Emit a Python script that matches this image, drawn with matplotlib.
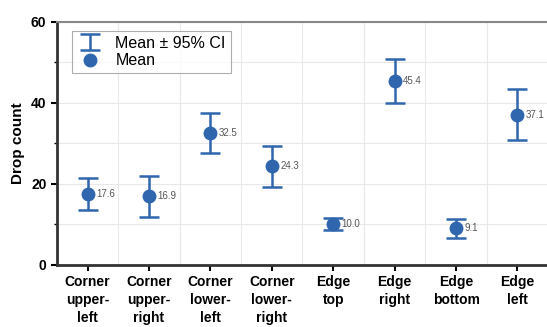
import numpy as np
import matplotlib.pyplot as plt
from matplotlib.ticker import MultipleLocator

plt.rcParams['font.family'] = ['Liberation Sans', 'DejaVu Sans']

cats = ['Corner\nupper-\nleft', 'Corner\nupper-\nright', 'Corner\nlower-\nleft', 'Corner\nlower-\nright',
        'Edge\ntop', 'Edge\nright', 'Edge\nbottom', 'Edge\nleft']
means = [17.6, 16.9, 32.5, 24.3, 10.0, 45.4, 9.1, 37.1]
ci_hi = [21.5, 22.0, 37.5, 29.4, 11.6, 50.9, 11.4, 43.5]
ci_lo = [13.6, 11.9, 27.7, 19.3, 8.5, 40.0, 6.7, 30.9]

blue = '#2f66ad'
x = np.arange(len(cats))
m = np.array(means)
err = [m - np.array(ci_lo), np.array(ci_hi) - m]

fig = plt.figure(figsize=(5.47, 3.27), dpi=100)
ax = fig.add_axes([0.104, 0.19, 0.898, 0.743])

eb = ax.errorbar(x, m, yerr=err, fmt='none', ecolor=blue, elinewidth=1.8, capsize=7, capthick=1.8,
                 label='Mean ± 95% CI', zorder=3)
pt, = ax.plot(x, m, 'o', color=blue, ms=9, label='Mean', zorder=4)
for xi, v in zip(x, means):
    ax.annotate(f'{v:.1f}', (xi, v), xytext=(6, 0), textcoords='offset points',
                va='center', ha='left', fontsize=7, color='#555555', zorder=5)

ax.set_xlim(-0.5, 7.5)
ax.set_ylim(0, 60)
ax.set_xticks(x)
ax.set_xticklabels(cats, fontsize=10, fontweight='bold', linespacing=1.35)
ax.yaxis.set_major_locator(MultipleLocator(20))
ax.yaxis.set_minor_locator(MultipleLocator(10))
ax.set_xticks(np.arange(-0.5, 8, 1), minor=True)
ax.tick_params(axis='y', labelsize=10, width=1.5, length=4)
ax.tick_params(axis='y', which='minor', length=2, width=1)
ax.tick_params(axis='x', which='major', width=1.5, length=4)
ax.tick_params(axis='x', which='minor', length=0)
for lab in ax.get_yticklabels():
    lab.set_fontweight('bold')
ax.set_ylabel('Drop count', fontsize=11, fontweight='bold', labelpad=4)

ax.grid(True, which='both', color='#e8e8e8', lw=0.8, zorder=0)
ax.grid(False, axis='x', which='major')
ax.set_axisbelow(True)

for s in ['left', 'bottom']:
    ax.spines[s].set_linewidth(2)
    ax.spines[s].set_color('#333333')
ax.spines['top'].set_color('#888888')
ax.spines['top'].set_linewidth(1.5)
ax.spines['right'].set_visible(False)

leg = ax.legend([eb, pt], ['Mean ± 95% CI', 'Mean'], loc='upper left', fontsize=11.5,
                frameon=True, fancybox=False, edgecolor='#999999', borderpad=0.3,
                handlelength=1.6, labelspacing=0.15, bbox_to_anchor=(0.015, 0.995))
leg.get_frame().set_linewidth(0.8)

fig.savefig('out.png', dpi=100)
